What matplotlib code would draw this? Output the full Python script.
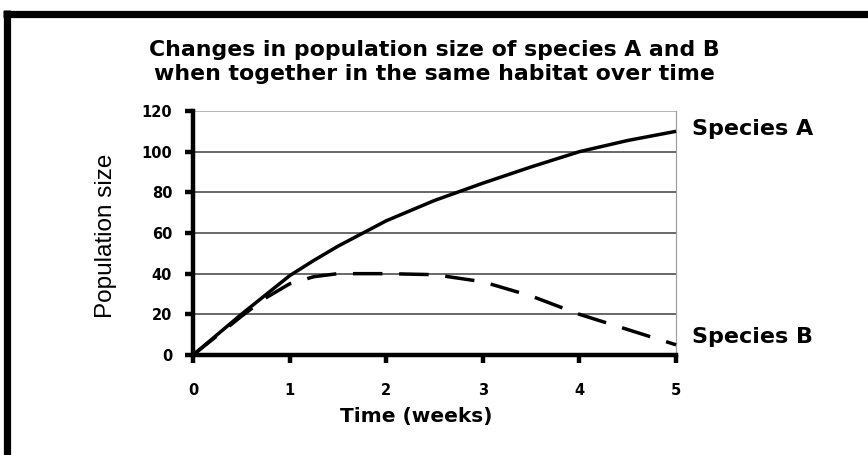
import matplotlib
matplotlib.use("Agg")
import matplotlib.pyplot as plt
from matplotlib.lines import Line2D

# ── data ──────────────────────────────────────────────────────────────────────
WEEKS_A   = [0, 0.25, 0.5, 0.75, 1.0, 1.25, 1.5, 2.0, 2.5, 3.0, 3.5, 4.0, 4.5, 5.0]
SPECIES_A = [0, 10, 20, 29.5, 39, 46.5, 53.5, 66, 76, 84.5, 92.5, 100, 105.5, 110]

WEEKS_B   = [0, 0.25, 0.5, 0.75, 1.0, 1.25, 1.5, 2.0, 2.5, 3.0, 3.5, 4.0, 4.5, 5.0]
SPECIES_B = [0, 9.5, 19, 28, 35, 38.5, 40, 40, 39.5, 36, 29, 20, 12.5, 5]

X_TICKS = [0, 1, 2, 3, 4, 5]
Y_TICKS = [0, 20, 40, 60, 80, 100, 120]

TITLE = ("Changes in population size of species A and B\n"
         "when together in the same habitat over time")

# ── figure ────────────────────────────────────────────────────────────────────
fig = plt.figure(figsize=(8.68, 4.55), dpi=100, facecolor="white")
ax = fig.add_axes([0.2224, 0.2198, 0.5565, 0.5363])

ax.plot(WEEKS_A, SPECIES_A, color="black", lw=2.5, solid_capstyle="butt",
        clip_on=False, zorder=3)
ax.plot(WEEKS_B, SPECIES_B, color="black", lw=2.5, dashes=(8.5, 4.8),
        clip_on=False, zorder=3)

ax.set_xlim(0, 5)
ax.set_ylim(0, 120)
ax.set_xticks(X_TICKS)
ax.set_yticks(Y_TICKS)
ax.grid(axis="y", color="#404040", lw=1.1)
ax.yaxis.get_gridlines()[-1].set_color("#a0a0a0")
ax.set_axisbelow(True)

ax.spines["top"].set_visible(False)
ax.spines["right"].set_color("#a0a0a0")
ax.spines["right"].set_linewidth(0.9)
ax.spines["left"].set_linewidth(3.2)
ax.spines["bottom"].set_linewidth(3.2)

ax.tick_params(direction="out", length=6, width=3.2)
ax.tick_params(axis="y", pad=9)
ax.tick_params(axis="x", pad=14)
for lbl in ax.get_xticklabels() + ax.get_yticklabels():
    lbl.set_fontfamily("DejaVu Sans")
    lbl.set_fontweight("bold")
    lbl.set_fontsize(10.5)

ax.set_xlabel("Time (weeks)", fontfamily="DejaVu Sans", fontweight="bold",
              fontsize=14.5)
ax.xaxis.set_label_coords(0.462, -0.213)
ax.set_ylabel("Population size", fontfamily="Liberation Sans",
              fontsize=17.5)
ax.yaxis.set_label_coords(-0.158, 0.49)

ax.text(1.033, 111, "Species A", transform=ax.get_yaxis_transform(),
        fontfamily="DejaVu Sans", fontweight="bold", fontsize=16,
        ha="left", va="center")
ax.text(1.033, SPECIES_B[-1] + 4, "Species B", transform=ax.get_yaxis_transform(),
        fontfamily="DejaVu Sans", fontweight="bold", fontsize=16,
        ha="left", va="center")

fig.text(0.5, 0.864, TITLE, ha="center", va="center",
         fontfamily="DejaVu Sans", fontweight="bold", fontsize=15.8,
         linespacing=1.22)

# frame (top and left only)
fig.add_artist(Line2D([0.004, 1.0], [0.970, 0.970], color="black", lw=5.2,
                      transform=fig.transFigure, solid_capstyle="butt"))
fig.add_artist(Line2D([0.008, 0.008], [0.0, 0.977], color="black", lw=5.2,
                      transform=fig.transFigure, solid_capstyle="butt"))

fig.savefig("out.png", dpi=100, facecolor="white")
